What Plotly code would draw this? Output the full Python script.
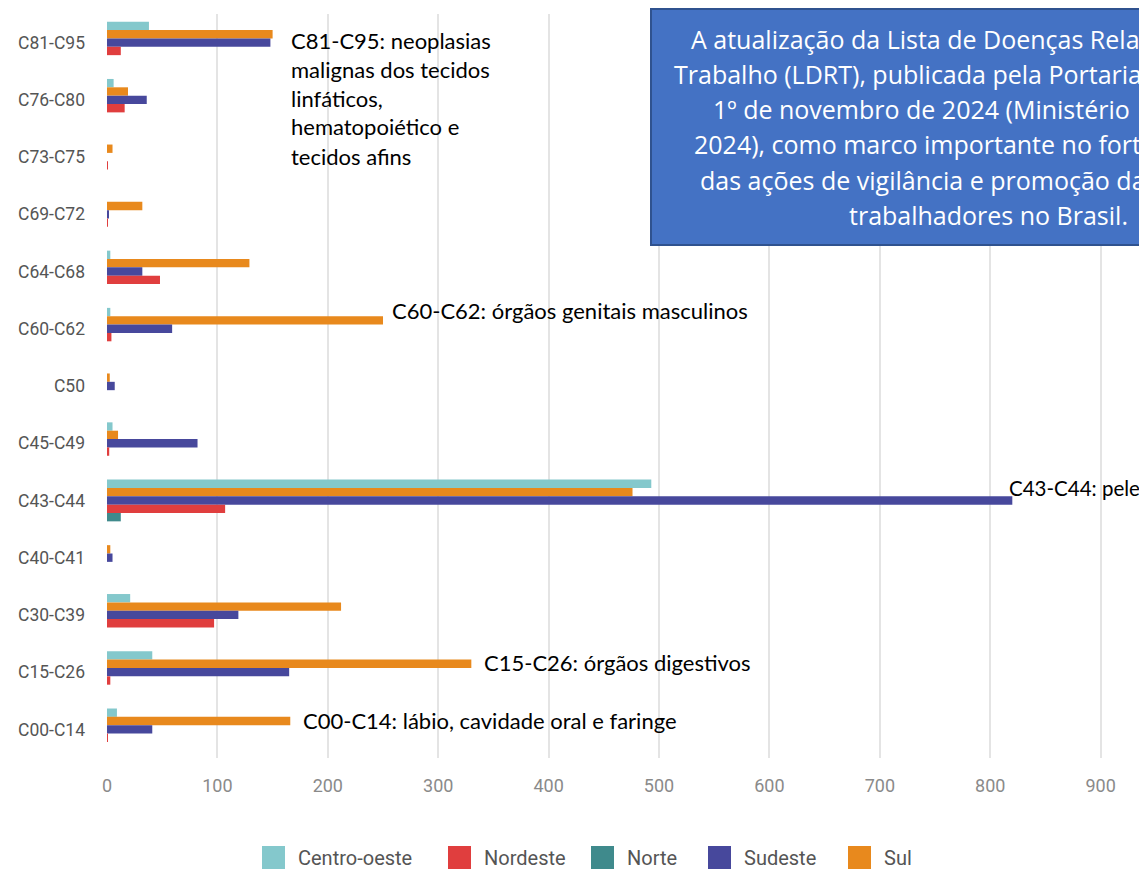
import plotly.graph_objects as go

# ---------------- data ----------------
categories = ["C81-C95", "C76-C80", "C73-C75", "C69-C72", "C64-C68", "C60-C62",
              "C50", "C45-C49", "C43-C44", "C40-C41", "C30-C39", "C15-C26", "C00-C14"]
centro_oeste = [38, 6, 0, 0, 3, 3, 0, 5, 493, 0, 21, 41, 9]
nordeste = [12.5, 16, 0.3, 0.3, 48, 4, 0, 2, 107, 0, 97, 3, 0.5]
norte = [0, 0, 0, 0, 0, 0, 0, 0, 12.5, 0, 0, 0, 0]
sudeste = [148, 36, 0, 1.5, 32, 59, 7, 82, 820, 5, 119, 165, 41]
sul = [150, 19, 5, 32, 129, 250, 2.5, 10, 476, 3, 212, 330, 166]
x_ticks = [0, 100, 200, 300, 400, 500, 600, 700, 800, 900]

legend_order = ["Centro-oeste", "Nordeste", "Norte", "Sudeste", "Sul"]
colors = {"Centro-oeste": "#84C8CC", "Nordeste": "#E03E3E", "Norte": "#3F8A8C",
          "Sudeste": "#47489C", "Sul": "#E8891D"}
# drawing order inside each group (top to bottom)
series = [("Centro-oeste", centro_oeste), ("Sul", sul), ("Sudeste", sudeste),
          ("Nordeste", nordeste), ("Norte", norte)]

box_lines = ["A atualização da Lista de Doenças Rela",
             "Trabalho (LDRT), publicada pela Portaria",
             "1º de novembro de 2024 (Ministério",
             "2024), como marco importante no fort",
             "das ações de vigilância e promoção da",
             "trabalhadores no Brasil."]
note_c81 = ["C81-C95: neoplasias", "malignas dos tecidos", "linfáticos,",
            "hematopoiético e", "tecidos afins"]
notes_single = [("C60-C62: órgãos genitais masculinos", 391, 310, 22),
                ("C43-C44: pele", 1008, 488, 20.5),
                ("C15-C26: órgãos digestivos", 483, 662, 22),
                ("C00-C14: lábio, cavidade oral e faringe", 302, 720, 22)]

# ---------------- geometry (page pixels) ----------------
W, H = 1147, 869
OFF = 8                      # page body margin
PL, PT, PB = 107, 14, 758    # plot-area left / top / bottom in page pixels
PW, PH = W - PL, PB - PT


def pxx(x):
    return (x - PL) / PW


def pxy(y):
    return (PB - y) / PH


fig = go.Figure()
for name, vals in series:
    fig.add_trace(go.Bar(y=categories, x=vals, orientation="h", name=name,
                         marker=dict(color=colors[name], line=dict(width=0)),
                         showlegend=False))

annotations = []
shapes = []

note_family = "Lato, 'Open Sans', sans-serif"
c81_y = [41, 69, 98, 127, 156]
for txt, yy in zip(note_c81, c81_y):
    annotations.append(dict(xref="paper", yref="paper", x=pxx(289), y=pxy(yy),
                            xanchor="left", yanchor="middle", text=txt,
                            showarrow=False,
                            font=dict(family=note_family, size=22, color="#000000")))
for txt, xx, yy, fs in notes_single:
    annotations.append(dict(xref="paper", yref="paper", x=pxx(xx - 1), y=pxy(yy),
                            xanchor="left", yanchor="middle", text=txt,
                            showarrow=False,
                            font=dict(family=note_family, size=fs, color="#000000")))

# blue text box
shapes.append(dict(type="rect", xref="paper", yref="paper",
                   x0=pxx(651), x1=pxx(1300), y0=pxy(245), y1=pxy(9),
                   fillcolor="#4472C4", line=dict(color="#2F528F", width=2),
                   layer="above"))
box_x = [690, 673, 712, 693, 699, 848]
box_y = [39, 74, 109, 144, 180, 215]
for txt, xx, yy in zip(box_lines, box_x, box_y):
    annotations.append(dict(xref="paper", yref="paper", x=pxx(xx - 1), y=pxy(yy),
                            xanchor="left", yanchor="middle", text=txt,
                            showarrow=False,
                            font=dict(family="'Open Sans', 'Noto Sans', sans-serif",
                                      size=25, color="#FFFFFF")))

# legend drawn as swatches + labels
leg_sq_x = [262, 448, 591, 708, 848]
for name, xx in zip(legend_order, leg_sq_x):
    shapes.append(dict(type="rect", xref="paper", yref="paper",
                       x0=pxx(xx), x1=pxx(xx + 23), y0=pxy(869), y1=pxy(846),
                       fillcolor=colors[name], line=dict(width=0)))
    annotations.append(dict(xref="paper", yref="paper", x=pxx(xx + 34), y=pxy(858),
                            xanchor="left", yanchor="middle", text=name,
                            showarrow=False,
                            font=dict(family="Roboto, sans-serif",
                                      size=20, color="#555555")))

axis_font = "Roboto, sans-serif"
fig.update_layout(
    width=W - OFF, height=H - OFF,
    margin=dict(l=PL - OFF, r=0, t=PT - OFF, b=H - PB, pad=0),
    paper_bgcolor="#FFFFFF", plot_bgcolor="#FFFFFF",
    barmode="group", bargap=0.27, bargroupgap=0,
    showlegend=False,
    xaxis=dict(range=[0, 942], tickvals=x_ticks, showgrid=True,
               gridcolor="#E4E4E4", gridwidth=2, zeroline=False, showline=False,
               ticks="", ticklabelstandoff=15,
               tickfont=dict(family=axis_font, size=18, color="#8A8A8A")),
    yaxis=dict(categoryorder="array", categoryarray=categories,
               autorange="reversed", showgrid=False, zeroline=False,
               showline=False, ticks="", ticklabelstandoff=21,
               tickfont=dict(family=axis_font, size=17.5, color="#555555")),
    annotations=annotations,
    shapes=shapes,
)

fig.write_html("out.html")
